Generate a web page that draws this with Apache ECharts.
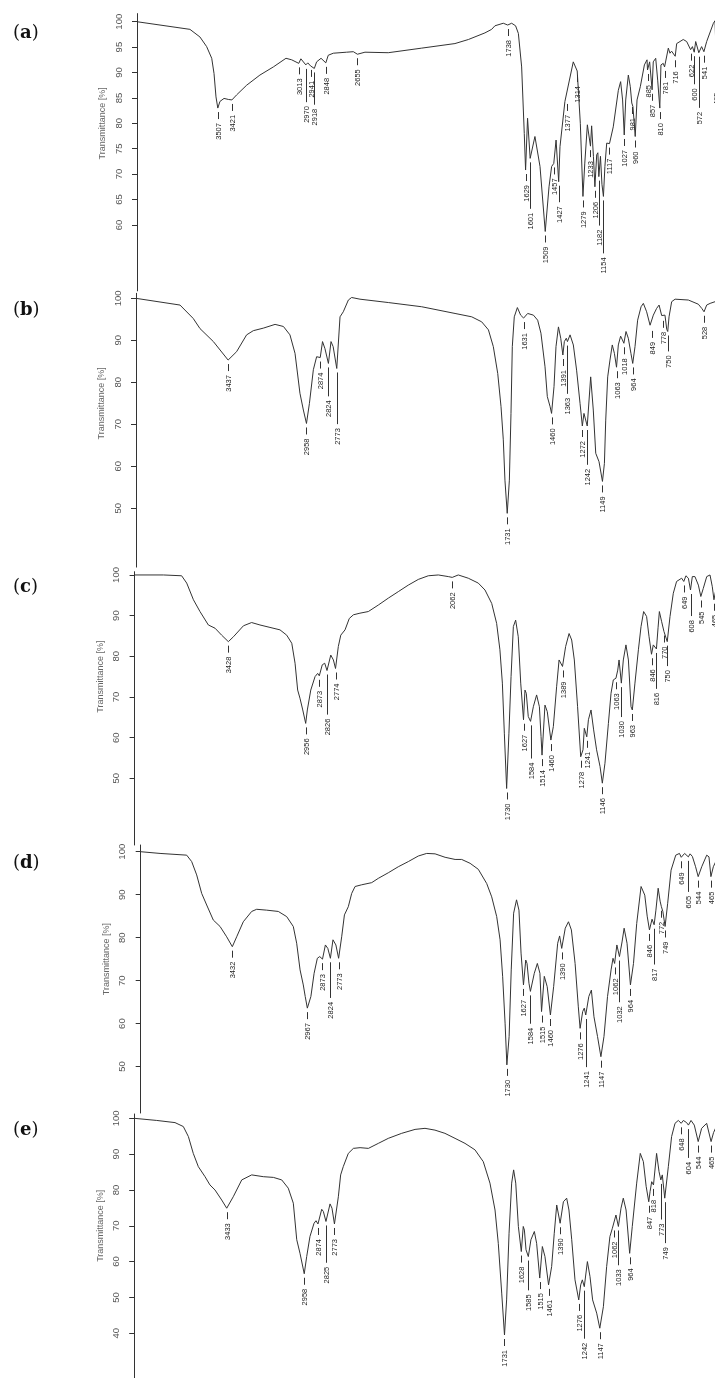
<!DOCTYPE html>
<html><head><meta charset="utf-8">
<script src="https://cdn.jsdelivr.net/npm/echarts@6/dist/echarts.min.js"></script>
<style>html,body{margin:0;padding:0;background:#fff}#c{width:715px;height:1378px}</style>
</head><body><div id="c"></div>
<script>
// ---------------- DATA ----------------
const panelLetters = ['a', 'b', 'c', 'd', 'e'];
const yAxisTitle = 'Transmittance [%]';

const spectrumA = [[4000,100],[3677,98.5],[3616,97.0],[3575,95.1],[3544,92.8],[3530,89.8],[3518,85.2],[3507,83.0],[3494,84.3],[3469,84.9],[3443,84.7],[3421,84.6],[3392,85.6],[3331,87.5],[3250,89.5],[3168,91.1],[3091,92.8],[3056,92.5],[3013,91.8],[3000,92.7],[2970,91.5],[2958,91.9],[2941,91.3],[2918,90.8],[2904,92.1],[2877,92.8],[2848,91.9],[2833,93.4],[2802,93.8],[2721,94.0],[2680,94.1],[2655,93.6],[2609,94.0],[2467,93.9],[2263,94.8],[2060,95.7],[1978,96.5],[1877,97.8],[1836,98.5],[1816,99.2],[1765,99.7],[1738,99.35],[1714,99.7],[1690,99.2],[1673,97.7],[1653,91.1],[1637,78.0],[1629,70.8],[1617,81.0],[1601,73.1],[1572,77.4],[1541,71.5],[1509,58.7],[1486,67.5],[1470,71.5],[1457,72.1],[1443,76.7],[1427,68.5],[1419,75.4],[1389,84.3],[1377,84.6],[1338,92.1],[1314,90.3],[1307,90.5],[1295,80.0],[1279,65.6],[1268,72.0],[1252,79.7],[1233,75.5],[1226,79.5],[1215,73.5],[1206,67.5],[1195,73.8],[1188,74.2],[1182,69.5],[1172,73.5],[1163,68.0],[1154,65.6],[1145,71.5],[1134,76.1],[1117,76.0],[1094,79.3],[1063,86.5],[1049,88.2],[1037,84.6],[1027,77.7],[1018,84.6],[1002,89.5],[990,87.2],[981,84.0],[974,83.3],[960,77.4],[949,84.6],[929,87.2],[904,91.5],[888,92.5],[885,90.5],[872,92.1],[857,86.6],[850,92.1],[835,92.8],[823,88.5],[810,83.0],[803,91.5],[789,91.8],[781,91.1],[758,94.8],[748,93.8],[738,94.2],[716,93.2],[707,95.7],[667,96.5],[646,96.1],[622,94.5],[611,95.1],[600,94.0],[591,96.1],[572,93.9],[555,95.1],[541,94.1],[524,96.1],[483,99.7],[473,100.2],[468,95.0],[465,89.0],[458,94.0],[440,97.0],[400,98.0]];
const spectrumB = [[4000,100],[3731,98.4],[3650,95.2],[3609,92.8],[3527,89.7],[3437,85.3],[3385,87.3],[3324,91.3],[3283,92.3],[3222,92.9],[3150,93.8],[3099,93.3],[3059,91.3],[3028,86.9],[2998,77.4],[2977,73.4],[2958,70.2],[2940,75.0],[2916,83.0],[2896,86.1],[2885,86.5],[2874,85.9],[2860,89.7],[2845,88.0],[2824,84.5],[2808,89.7],[2795,88.5],[2773,83.3],[2753,95.6],[2733,96.8],[2702,99.6],[2682,100.2],[2631,99.8],[2458,99.0],[2254,98.0],[2050,96.4],[1948,95.6],[1887,94.4],[1846,92.5],[1816,88.5],[1789,82.1],[1769,74.2],[1755,66.3],[1745,56.7],[1731,48.8],[1718,56.7],[1708,72.6],[1700,88.5],[1688,95.6],[1669,97.8],[1649,96.0],[1631,95.3],[1606,96.4],[1571,96.0],[1545,94.8],[1525,91.7],[1500,83.7],[1486,76.6],[1469,74.2],[1460,72.6],[1445,79.0],[1433,88.5],[1418,93.2],[1404,90.5],[1391,86.5],[1382,89.7],[1370,90.5],[1363,89.7],[1347,91.3],[1327,88.9],[1307,82.9],[1286,75.0],[1272,69.6],[1262,72.6],[1242,69.6],[1221,81.3],[1205,73.4],[1190,63.1],[1170,61.1],[1149,56.4],[1137,60.7],[1129,71.0],[1117,81.3],[1103,85.3],[1089,88.9],[1076,86.9],[1063,83.6],[1052,88.9],[1038,91.0],[1027,90.1],[1018,89.3],[1005,92.1],[991,90.5],[975,86.9],[964,84.5],[950,88.5],[934,94.8],[913,98.0],[899,98.8],[879,96.8],[858,93.6],[849,93.2],[838,96.0],[818,97.6],[803,98.4],[787,95.9],[778,95.6],[767,96.0],[756,92.6],[750,92.1],[742,95.6],[726,99.2],[705,99.8],[624,99.6],[563,98.6],[542,97.6],[528,96.8],[512,98.4],[491,98.8],[461,99.2],[400,99.0]];
const spectrumC = [[4000,100],[3824,100],[3713,99.8],[3682,98.0],[3641,93.9],[3601,91.0],[3550,87.7],[3509,86.9],[3469,85.2],[3428,83.6],[3397,84.8],[3336,87.5],[3286,88.3],[3235,87.7],[3174,87.1],[3113,86.5],[3072,85.2],[3041,83.2],[3021,78.3],[3005,71.7],[2991,69.7],[2974,66.8],[2956,63.5],[2946,66.8],[2925,71.7],[2899,75.0],[2883,75.8],[2873,75.2],[2855,77.9],[2840,78.3],[2826,76.5],[2803,80.3],[2787,79.1],[2774,77.0],[2757,82.4],[2742,85.2],[2716,86.5],[2690,89.3],[2665,90.2],[2625,90.6],[2574,91.0],[2513,92.6],[2452,94.3],[2391,95.9],[2330,97.5],[2269,98.9],[2208,99.8],[2147,100],[2086,99.6],[2062,99.4],[2025,100],[1964,99.2],[1903,98.0],[1862,96.3],[1821,93.0],[1791,88.1],[1771,81.6],[1756,73.4],[1744,61.1],[1730,47.5],[1716,61.1],[1703,75.0],[1689,87.3],[1675,88.9],[1659,84.8],[1644,73.4],[1627,64.4],[1618,71.7],[1610,70.9],[1598,65.2],[1584,64.0],[1567,67.6],[1547,70.5],[1530,67.6],[1520,60.3],[1514,55.7],[1496,68.0],[1482,66.4],[1460,59.4],[1445,62.7],[1425,72.5],[1410,79.1],[1389,77.5],[1370,82.4],[1349,85.6],[1333,84.0],[1317,79.1],[1297,67.6],[1278,55.3],[1264,57.0],[1256,62.3],[1241,60.2],[1231,64.4],[1215,66.8],[1199,61.9],[1181,57.0],[1160,52.9],[1146,48.8],[1130,53.7],[1109,63.5],[1093,70.9],[1079,74.2],[1063,74.6],[1052,76.6],[1044,79.1],[1030,73.4],[1018,79.1],[1002,82.8],[987,79.1],[971,67.6],[963,66.8],[947,73.4],[926,81.6],[910,87.3],[894,91.0],[876,89.8],[861,84.8],[846,80.5],[835,82.8],[816,81.8],[806,87.0],[798,91.0],[784,88.5],[770,86.1],[762,86.5],[750,83.6],[733,89.8],[713,95.5],[693,98.4],[662,99.2],[649,98.4],[636,99.8],[621,99.2],[608,96.3],[597,99.6],[581,99.6],[560,97.5],[545,94.7],[530,96.7],[509,99.6],[489,100],[475,97.1],[465,93.9],[455,96.0],[430,98.5],[400,99.0]];
const spectrumD = [[4000,100],[3880,99.6],[3715,99.2],[3684,97.7],[3653,94.6],[3622,90.3],[3591,87.6],[3550,84.1],[3508,82.6],[3467,80.2],[3432,77.9],[3405,80.2],[3364,83.7],[3312,86.1],[3281,86.6],[3219,86.4],[3147,86.1],[3095,84.9],[3054,82.6],[3033,78.7],[3012,72.5],[2992,69.0],[2980,66.3],[2967,63.6],[2945,66.3],[2925,71.7],[2905,75.2],[2890,75.6],[2873,75.0],[2855,78.3],[2840,77.5],[2824,75.2],[2808,79.5],[2790,78.3],[2773,75.2],[2754,80.2],[2737,85.3],[2713,87.2],[2692,90.3],[2671,91.9],[2630,92.3],[2568,92.8],[2527,93.8],[2465,95.1],[2403,96.5],[2341,97.7],[2279,99.0],[2227,99.6],[2175,99.5],[2113,98.7],[2051,98.2],[2010,98.2],[1958,97.3],[1907,95.9],[1855,92.6],[1824,89.5],[1793,84.9],[1772,79.5],[1756,70.9],[1741,60.1],[1730,50.4],[1716,57.0],[1703,72.5],[1688,85.7],[1670,88.8],[1655,86.4],[1642,76.4],[1627,69.0],[1613,74.8],[1605,74.0],[1593,69.4],[1584,67.5],[1560,71.7],[1541,74.0],[1525,71.7],[1515,62.8],[1498,71.0],[1480,68.6],[1460,62.0],[1440,68.6],[1415,78.7],[1403,80.4],[1390,77.5],[1368,82.2],[1348,83.7],[1330,81.8],[1307,74.0],[1287,63.9],[1276,58.9],[1260,62.8],[1250,63.6],[1241,62.0],[1222,66.3],[1206,67.8],[1190,61.6],[1168,57.0],[1147,52.3],[1128,57.0],[1106,66.3],[1084,72.5],[1072,75.2],[1062,74.0],[1048,78.3],[1032,75.6],[1016,79.0],[1003,82.2],[985,78.7],[964,69.0],[945,74.0],[925,83.3],[898,91.9],[875,89.9],[860,85.0],[846,81.8],[830,84.3],[817,83.0],[806,86.4],[792,91.5],[780,88.5],[772,87.2],[763,86.1],[749,82.6],[733,88.0],[712,95.7],[683,99.2],[660,99.6],[649,98.7],[628,99.6],[605,98.8],[594,99.5],[580,98.9],[560,96.5],[544,94.2],[522,96.5],[491,99.2],[477,98.8],[465,94.2],[450,96.5],[425,98.5],[400,99.0]];
const spectrumE = [[4000,100],[3862,99.4],[3750,98.8],[3699,97.7],[3668,94.9],[3638,90.2],[3607,86.5],[3566,83.7],[3536,81.4],[3505,80.0],[3464,77.2],[3433,74.9],[3393,78.1],[3341,82.8],[3280,84.2],[3209,83.7],[3147,83.5],[3096,82.8],[3056,80.5],[3025,76.3],[3004,66.1],[2984,62.3],[2958,56.6],[2943,61.4],[2923,67.0],[2898,70.7],[2886,71.4],[2874,70.5],[2851,74.6],[2841,74.0],[2825,71.2],[2800,76.1],[2788,74.9],[2773,70.5],[2749,78.1],[2735,84.2],[2719,86.5],[2688,90.2],[2657,91.6],[2616,91.8],[2565,91.6],[2504,93.0],[2443,94.4],[2361,95.8],[2279,96.9],[2218,97.2],[2157,96.7],[2096,95.8],[2034,94.4],[1973,93.0],[1912,91.2],[1861,87.9],[1820,81.9],[1789,74.4],[1769,65.1],[1748,51.2],[1731,39.5],[1718,49.3],[1703,67.9],[1687,81.9],[1675,85.6],[1662,81.9],[1646,69.8],[1628,62.8],[1616,69.8],[1609,68.8],[1599,63.3],[1585,61.4],[1569,66.1],[1548,68.4],[1534,65.1],[1515,55.4],[1499,64.2],[1483,61.4],[1461,53.5],[1442,58.6],[1426,67.9],[1411,75.8],[1390,70.7],[1370,76.7],[1350,77.7],[1336,74.4],[1319,66.1],[1299,54.9],[1276,49.3],[1264,53.5],[1254,54.9],[1242,53.0],[1223,60.0],[1207,55.8],[1191,49.3],[1166,45.6],[1147,41.4],[1125,47.4],[1105,58.6],[1085,67.0],[1070,69.3],[1062,69.8],[1048,73.0],[1033,69.8],[1017,74.9],[1003,77.7],[986,74.4],[964,62.3],[948,69.8],[921,81.9],[899,90.2],[880,87.9],[863,81.0],[847,76.7],[839,79.5],[829,82.3],[818,81.4],[799,90.2],[784,85.1],[773,82.8],[764,84.2],[749,77.7],[727,86.5],[707,94.9],[686,98.6],[666,99.4],[648,98.6],[635,99.4],[615,98.8],[604,98.1],[588,99.4],[568,98.1],[544,93.5],[523,97.2],[492,98.6],[465,93.5],[450,96.0],[425,98.5],[400,99.0]];

const peaksA = [3507,3421,3013,2970,2941,2918,2848,2655,1738,1629,1601,1509,1457,1427,1377,1314,1279,1233,1206,1182,1154,1117,1027,981,960,885,857,810,781,716,622,600,572,541,465];
const peaksB = [3437,2958,2874,2824,2773,1731,1631,1460,1391,1363,1272,1242,1149,1063,1018,964,849,778,750,528];
const peaksC = [3428,2956,2873,2826,2774,2062,1730,1627,1584,1514,1460,1389,1278,1241,1146,1063,1030,963,846,816,770,750,649,608,545,465];
const peaksD = [3432,2967,2873,2824,2773,1730,1627,1584,1515,1460,1390,1276,1241,1147,1062,1032,964,846,817,772,749,649,605,544,465];
const peaksE = [3433,2958,2874,2825,2773,1731,1628,1585,1515,1461,1390,1276,1242,1147,1062,1033,964,847,818,773,749,648,604,544,465];

const yTicksA = [60,65,70,75,80,85,90,95,100];
const yTicksB = [50,60,70,80,90,100];
const yTicksC = [50,60,70,80,90,100];
const yTicksD = [50,60,70,80,90,100];
const yTicksE = [40,50,60,70,80,90,100];

const spectra = [spectrumA, spectrumB, spectrumC, spectrumD, spectrumE];
const peaks = [peaksA, peaksB, peaksC, peaksD, peaksE];
const yTicks = [yTicksA, yTicksB, yTicksC, yTicksD, yTicksE];

// ---------------- LAYOUT ----------------
const layout = [
  {left:137,   right:-12,  top:13.6,  bottom:1087.1, yMin:47,   yMax:101.6},
  {left:136,   right:-10,  top:293.3, bottom:810.9,  yMin:36,   yMax:101.2},
  {left:134.6, right:-9.6, top:571.7, bottom:533,    yMin:33.6, yMax:100.8},
  {left:140.7, right:-6.4, top:845,   bottom:265,    yMin:39.2, yMax:101.56},
  {left:134.2, right:-6.7, top:1114,  bottom:0,      yMin:27.5, yMax:101.2}
];
const INK = '#333';
const FONT = '"Liberation Sans", Arial, sans-serif';

function interp(spec, w) {
  for (let i = 0; i < spec.length - 1; i++) {
    const a = spec[i], b = spec[i + 1];
    if (w <= a[0] && w >= b[0]) {
      const t = (a[0] - w) / (a[0] - b[0] || 1);
      return a[1] + t * (b[1] - a[1]);
    }
  }
  return spec[spec.length - 1][1];
}

const chart = echarts.init(document.getElementById('c'), null, {renderer: 'canvas'});

const grids = layout.map(L => ({left: L.left, right: L.right, top: L.top, bottom: L.bottom, outerBoundsMode: 'none', containLabel: false}));
const xAxes = layout.map((L, i) => ({gridIndex: i, type: 'value', min: 400, max: 4000, inverse: true, show: false}));
const yAxes = layout.map((L, i) => ({
  gridIndex: i, type: 'value', min: L.yMin, max: L.yMax,
  axisLine: {show: true, onZero: false, lineStyle: {color: INK, width: 1}},
  axisTick: {show: true, length: 5, customValues: yTicks[i], lineStyle: {color: INK, width: 1}},
  axisLabel: {show: true, customValues: yTicks[i], rotate: 90, margin: 13, fontSize: 9.5, color: '#555', fontFamily: FONT},
  splitLine: {show: false}
}));
const lineSeries = spectra.map((s, i) => ({
  type: 'line', xAxisIndex: i, yAxisIndex: i, data: s, symbol: 'none', showSymbol: false,
  lineStyle: {color: INK, width: 1}, silent: true, animation: false, clip: false
}));

chart.setOption({
  animation: false,
  grid: grids, xAxis: xAxes, yAxis: yAxes, series: lineSeries
});

// ---- peak label placement (greedy collision avoidance in pixel space) ----
const peakSeries = peaks.map((list, i) => {
  const placed = [];
  const data = list.map(w => {
    const v = interp(spectra[i], w);
    const p = chart.convertToPixel({gridIndex: i}, [w, v]);
    const len = String(w).length * 4.2;
    let top = p[1] + 15;
    let moved = true, guard = 0;
    while (moved && guard++ < 50) {
      moved = false;
      for (const q of placed) {
        if (Math.abs(q.x - p[0]) < 8.4 && top < q.bottom + 3 && top + len > q.top - 3) {
          top = q.bottom + 11; moved = true;
        }
      }
    }
    placed.push({x: p[0], top: top, bottom: top + len});
    return [w, v, top - p[1]];
  });
  return {
    type: 'custom', xAxisIndex: i, yAxisIndex: i, data: data, silent: true, clip: false,
    renderItem: (params, api) => {
      const w = api.value(0);
      const p = api.coord([w, api.value(1)]);
      const drop = api.value(2);
      const x = Math.round(p[0]) + 0.5;
      return {type: 'group', children: [
        {type: 'line', shape: {x1: x, y1: p[1] + 4, x2: x, y2: p[1] + drop - 4},
         style: {stroke: INK, lineWidth: 1}},
        {type: 'text', x: x + 0.5, y: p[1] + drop, rotation: Math.PI / 2,
         style: {text: String(w), align: 'right', verticalAlign: 'middle', fontSize: 7.5, fontFamily: FONT, fill: '#222'}}
      ]};
    }
  };
});

const graphics = [];
layout.forEach((L, i) => {
  const t = yTicks[i];
  const mid = (t[0] + t[t.length - 1]) / 2;
  const pm = chart.convertToPixel({gridIndex: i}, [4000, mid]);
  graphics.push({type: 'text', x: pm[0] - 34, y: pm[1], rotation: Math.PI / 2,
    style: {text: yAxisTitle, align: 'center', verticalAlign: 'middle', fontSize: 9, fontFamily: FONT, fill: '#666'}});
  const pt = chart.convertToPixel({gridIndex: i}, [4000, 100]);
  graphics.push({type: 'text', x: 13, y: pt[1] + 12,
    style: {text: '{p|(}{b|' + panelLetters[i] + '}{p|)}', align: 'left', verticalAlign: 'middle',
      rich: {p: {fontSize: 18, fontFamily: '"DejaVu Serif", serif', fill: '#111'},
             b: {fontSize: 18, fontWeight: 'bold', fontFamily: '"DejaVu Serif", serif', fill: '#111'}}}});
});

chart.setOption({series: lineSeries.concat(peakSeries), graphic: graphics});
</script>
</body></html>
